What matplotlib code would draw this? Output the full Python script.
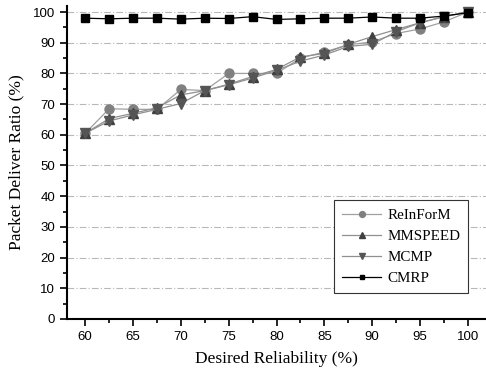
import matplotlib
matplotlib.use("Agg")
import matplotlib.pyplot as plt
from matplotlib.ticker import MultipleLocator

# desired reliability (%)
x = [60, 62.5, 65, 67.5, 70, 72.5, 75, 77.5, 80, 82.5, 85, 87.5, 90, 92.5, 95, 97.5, 100]

reinform = [60.5, 68.5, 68.3, 68.3, 74.8, 74.4, 80.0, 80.0, 80.0, 85.0, 87.0, 89.3, 90.3, 93.0, 94.5, 96.8, 100]
mmspeed = [60.5, 65.3, 67.0, 68.8, 73.0, 74.4, 76.5, 79.0, 81.3, 85.4, 86.5, 89.5, 92.0, 94.3, 96.5, 98.5, 100]
mcmp = [60.5, 64.5, 66.5, 68.3, 70.2, 74.4, 76.3, 78.5, 81.0, 84.0, 86.0, 88.8, 89.5, 93.6, 96.5, 98.5, 100]
cmrp = [98.0, 97.8, 98.0, 98.0, 97.7, 98.0, 97.9, 98.5, 97.6, 97.8, 98.0, 98.0, 98.4, 98.0, 98.0, 98.7, 99.8]

fig = plt.figure(figsize=(4.86, 3.70), dpi=100)
ax = fig.add_axes([0.138, 0.138, 0.862, 0.846])

serif = {'family': 'Liberation Serif'}

ax.plot(x, reinform, '-o', color='#a0a0a0', mfc='#808080', mec='#808080', ms=6.5, lw=0.9, label='ReInForM')
ax.plot(x, mmspeed, '-^', color='#909090', mfc='#404040', mec='#404040', ms=6.5, lw=0.9, label='MMSPEED')
ax.plot(x, mcmp, '-v', color='#909090', mfc='#555555', mec='#555555', ms=6.5, lw=0.9, label='MCMP')
ax.plot(x, cmrp, '-s', color='#000000', mfc='#000000', mec='#000000', ms=5.5, lw=0.9, label='CMRP')

ax.set_xlim(58.1, 101.9)
ax.set_ylim(0, 102)
ax.xaxis.set_major_locator(MultipleLocator(5))
ax.xaxis.set_minor_locator(MultipleLocator(2.5))
ax.yaxis.set_major_locator(MultipleLocator(10))
ax.yaxis.set_minor_locator(MultipleLocator(5))

ax.grid(axis='y', which='major', linestyle=(0, (6, 2, 1, 2)), color='#b8b8b8', lw=0.8)
ax.set_axisbelow(True)

for s in ['top', 'right']:
    ax.spines[s].set_visible(False)
ax.spines['left'].set_linewidth(1.5)
ax.spines['bottom'].set_linewidth(1.5)

ax.tick_params(which='major', direction='out', length=5, width=1.2, labelsize=9.5)
ax.tick_params(which='minor', direction='out', length=3, width=1.2)
for lab in ax.get_xticklabels() + ax.get_yticklabels():
    lab.set_family('Liberation Sans')

ax.set_xlabel('Desired Reliability (%)', fontsize=12.5, fontdict=serif, labelpad=6)
ax.set_ylabel('Packet Deliver Ratio (%)', fontsize=12.5, fontdict=serif, labelpad=6)

leg = ax.legend(loc='lower right', bbox_to_anchor=(0.976, 0.058), prop={'family': 'Liberation Serif', 'size': 10.8},
                fancybox=False, edgecolor='#333333', framealpha=1, handlelength=2.6,
                labelspacing=0.5, borderpad=0.55, handletextpad=0.4, markerscale=0.65)
leg.get_frame().set_linewidth(0.8)

fig.savefig('out.png', dpi=100)
